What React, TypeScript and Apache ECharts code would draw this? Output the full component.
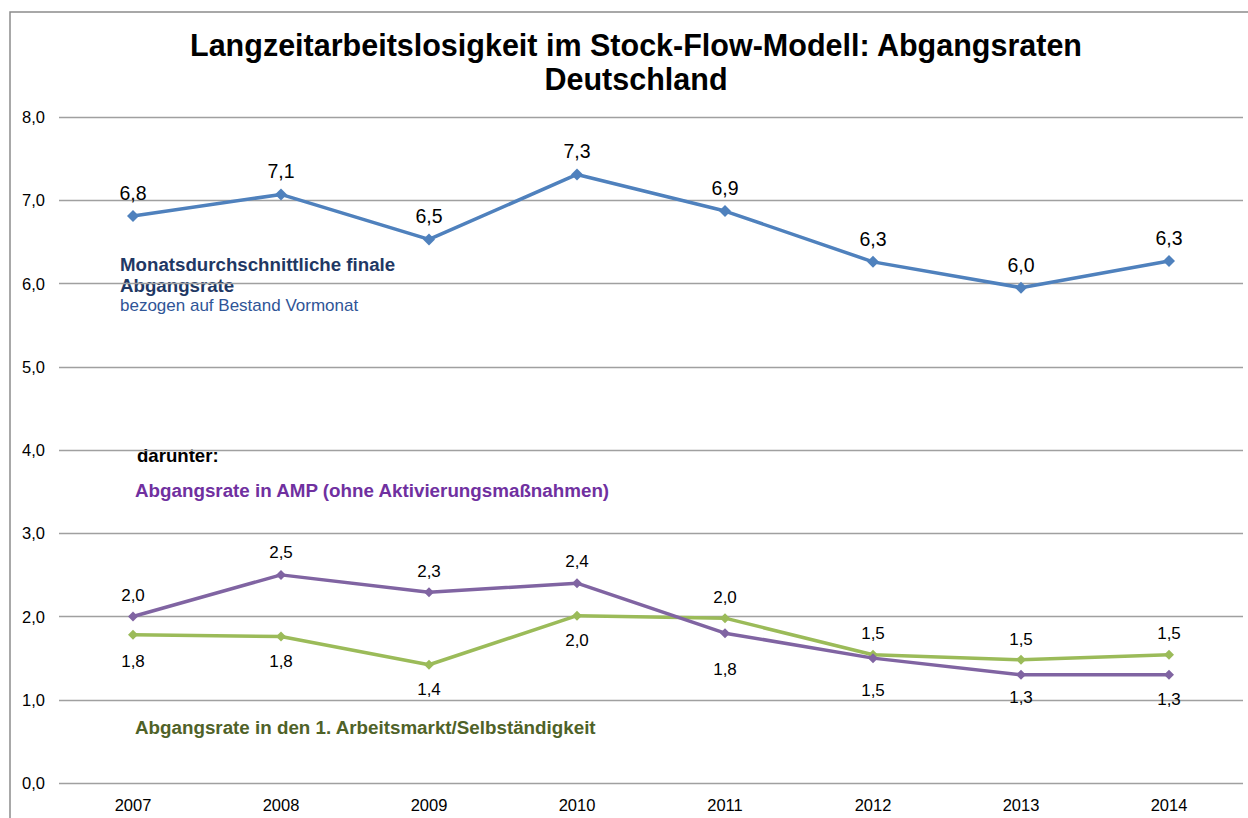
import React, { useEffect, useRef } from "react";
import * as echarts from "echarts";

const years = ["2007", "2008", "2009", "2010", "2011", "2012", "2013", "2014"];
const finaleRate = [6.81, 7.07, 6.53, 7.31, 6.87, 6.26, 5.95, 6.27];
const ampRate = [2.0, 2.5, 2.29, 2.4, 1.8, 1.5, 1.3, 1.3];
const arbeitsmarktRate = [1.78, 1.76, 1.42, 2.01, 1.98, 1.54, 1.48, 1.54];

// label placement (style, not data)
const ampLabelOffset = [-21, -22, -21, -22, 36, 32, 23, 25];
const amLabelOffset = [27, 25, 25, 25, -21, -21, -20, -21];
const FONT = "'Liberation Sans', Arial, Helvetica, sans-serif";

const fmt = (v: number) => v.toFixed(1).replace(".", ",");

export default function App() {
  const ref = useRef<HTMLDivElement>(null);
  useEffect(() => {
    if (!ref.current) return;
    const chart = echarts.init(ref.current, null, { renderer: "svg" });
    const mkData = (vals: number[], offs: number[] | null, off: number) =>
      vals.map((v, i) => ({
        value: v,
        label: { offset: [0, offs ? offs[i] : off] },
      }));
    chart.setOption({
      animation: false,
      backgroundColor: "#ffffff",
      textStyle: { fontFamily: FONT },
      grid: { left: 59, right: 5, top: 117, bottom: 35, containLabel: false },
      xAxis: {
        type: "category",
        data: years,
        boundaryGap: true,
        axisLine: { show: false },
        axisTick: { show: false },
        axisLabel: { color: "#000", fontSize: 16.5, fontFamily: FONT, margin: 13 },
      },
      yAxis: {
        type: "value",
        min: 0,
        max: 8,
        interval: 1,
        axisLine: { show: false },
        axisTick: { show: false },
        axisLabel: {
          color: "#000",
          fontSize: 16.5,
          fontFamily: FONT,
          margin: 14,
          formatter: (v: number) => fmt(v),
        },
        splitLine: { lineStyle: { color: "#a0a0a0", width: 1.3 } },
      },
      series: [
        {
          type: "line",
          data: mkData(finaleRate, null, -23),
          color: "#4f81bd",
          lineStyle: { width: 3.5, color: "#4f81bd" },
          symbol: "diamond",
          symbolSize: 12,
          itemStyle: { color: "#4f81bd" },
          label: {
            show: true,
            position: "inside",
            color: "#000",
            fontSize: 19.5,
            fontFamily: FONT,
            formatter: (p: any) => fmt(p.value),
          },
        },
        {
          type: "line",
          data: mkData(ampRate, ampLabelOffset, 0),
          color: "#8064a2",
          lineStyle: { width: 3.5, color: "#8064a2" },
          symbol: "diamond",
          symbolSize: 10,
          itemStyle: { color: "#8064a2" },
          z: 3,
          label: {
            show: true,
            position: "inside",
            color: "#000",
            fontSize: 17,
            fontFamily: FONT,
            formatter: (p: any) => fmt(p.value),
          },
        },
        {
          type: "line",
          data: mkData(arbeitsmarktRate, amLabelOffset, 0),
          color: "#9bbb59",
          lineStyle: { width: 3.5, color: "#9bbb59" },
          symbol: "diamond",
          symbolSize: 10,
          itemStyle: { color: "#9bbb59" },
          z: 2,
          label: {
            show: true,
            position: "inside",
            color: "#000",
            fontSize: 17,
            fontFamily: FONT,
            formatter: (p: any) => fmt(p.value),
          },
        },
      ],
      graphic: [
        {
          type: "rect",
          shape: { x: 10, y: 12, width: 1260, height: 830 },
          style: { fill: "none", stroke: "#8c8c8c", lineWidth: 1.5 },
          silent: true,
        },
        {
          type: "text",
          x: 636,
          y: 45,
          style: {
            text: "Langzeitarbeitslosigkeit im Stock-Flow-Modell: Abgangsraten",
            font: `bold 30.5px ${FONT}`,
            fill: "#000",
            align: "center",
            verticalAlign: "middle",
          },
        },
        {
          type: "text",
          x: 636,
          y: 79,
          style: {
            text: "Deutschland",
            font: `bold 30.5px ${FONT}`,
            fill: "#000",
            align: "center",
            verticalAlign: "middle",
          },
        },
        {
          type: "text",
          x: 120,
          y: 264,
          style: {
            text: "Monatsdurchschnittliche finale",
            font: `bold 18.7px ${FONT}`,
            fill: "#1f3864",
            verticalAlign: "middle",
          },
        },
        {
          type: "text",
          x: 120,
          y: 285,
          style: {
            text: "Abgangsrate",
            font: `bold 18.7px ${FONT}`,
            fill: "#1f3864",
            verticalAlign: "middle",
          },
        },
        {
          type: "text",
          x: 120,
          y: 305,
          style: {
            text: "bezogen auf Bestand Vormonat",
            font: `17px ${FONT}`,
            fill: "#2f5597",
            verticalAlign: "middle",
          },
        },
        {
          type: "text",
          x: 137,
          y: 455,
          style: {
            text: "darunter:",
            font: `bold 18.6px ${FONT}`,
            fill: "#000",
            verticalAlign: "middle",
          },
        },
        {
          type: "text",
          x: 135,
          y: 490,
          style: {
            text: "Abgangsrate in AMP (ohne Aktivierungsmaßnahmen)",
            font: `bold 18.8px ${FONT}`,
            fill: "#7030a0",
            verticalAlign: "middle",
          },
        },
        {
          type: "text",
          x: 135,
          y: 727,
          style: {
            text: "Abgangsrate in den 1. Arbeitsmarkt/Selbständigkeit",
            font: `bold 18.8px ${FONT}`,
            fill: "#4f6228",
            verticalAlign: "middle",
          },
        },
      ],
    });
    return () => chart.dispose();
  }, []);
  return (
    <div
      ref={ref}
      style={{ position: "absolute", left: 0, top: 0, width: 1248, height: 818 }}
    />
  );
}
